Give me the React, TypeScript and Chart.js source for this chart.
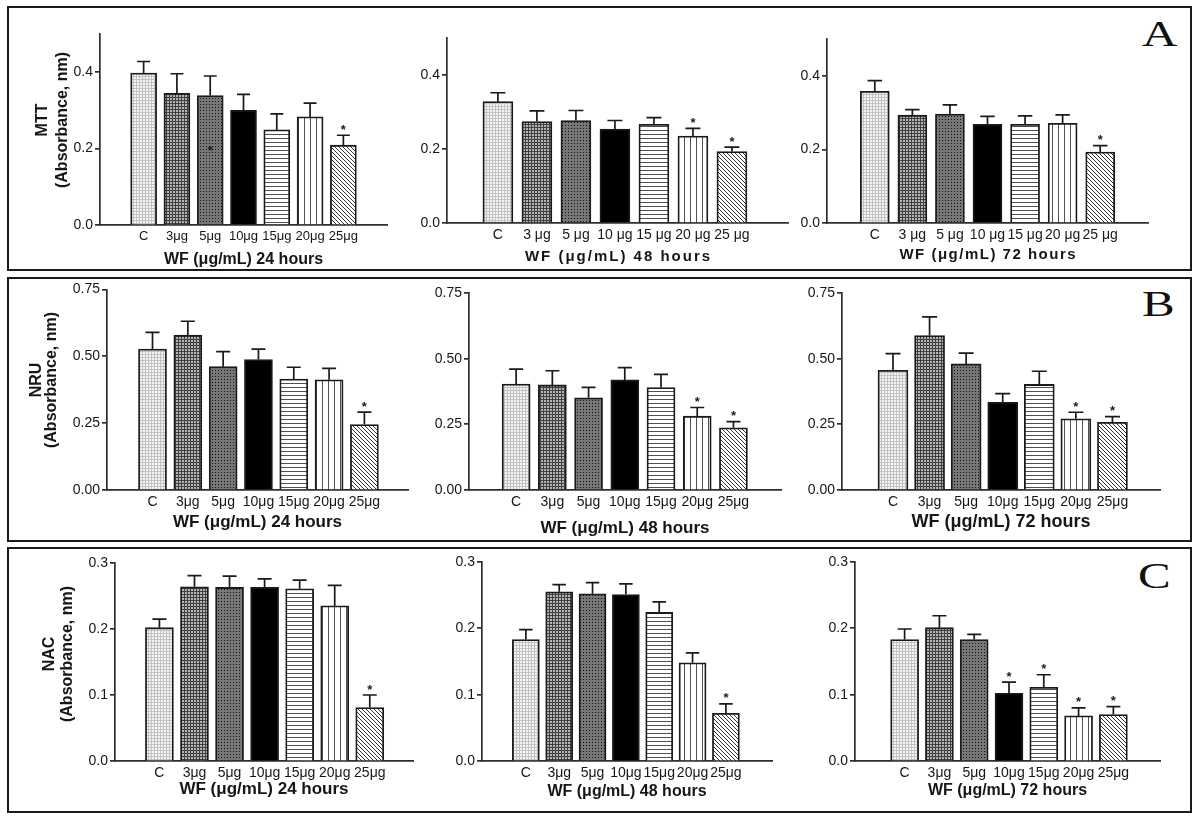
import React, { useEffect, useRef } from "react";
import { Chart, registerables } from "chart.js";

Chart.register(...registerables);

const FONT = "'Liberation Sans', Arial, Helvetica, sans-serif";
const AXIS = "#2e2e2e";
const TEXT = "#161616";
Chart.defaults.font.family = FONT;

// ---------- categories & tick labels ----------
const categories = ["C", "3μg", "5μg", "10μg", "15μg", "20μg", "25μg"];
const categoriesSpaced = ["C", "3 μg", "5 μg", "10 μg", "15 μg", "20 μg", "25 μg"];
const yTicksMTT = [0, 0.2, 0.4];
const yTicksNRU = [0, 0.25, 0.5, 0.75];
const yTicksNAC = [0, 0.1, 0.2, 0.3];

// ---------- MTT (panel A) ----------
const mtt24 = [0.398, 0.345, 0.339, 0.3, 0.249, 0.283, 0.209];
const mtt24Sem = [0.03, 0.051, 0.051, 0.042, 0.042, 0.036, 0.026];
const mtt24Sig = [0, 0, 0, 0, 0, 0, 1];
const mtt24Marks = [null, null, 0.2, null, null, null, null];
const mtt48 = [0.328, 0.274, 0.277, 0.254, 0.267, 0.235, 0.193];
const mtt48Sem = [0.024, 0.029, 0.027, 0.023, 0.018, 0.021, 0.012];
const mtt48Sig = [0, 0, 0, 0, 0, 1, 1];
const mtt72 = [0.358, 0.293, 0.296, 0.268, 0.268, 0.271, 0.193];
const mtt72Sem = [0.029, 0.015, 0.025, 0.022, 0.023, 0.023, 0.017];
const mtt72Sig = [0, 0, 0, 0, 0, 0, 1];

// ---------- NRU (panel B) ----------
const nru24 = [0.527, 0.579, 0.461, 0.488, 0.415, 0.412, 0.245];
const nru24Sem = [0.062, 0.052, 0.056, 0.039, 0.044, 0.043, 0.046];
const nru24Sig = [0, 0, 0, 0, 0, 0, 1];
const nru48 = [0.403, 0.4, 0.351, 0.419, 0.39, 0.281, 0.237];
const nru48Sem = [0.057, 0.054, 0.04, 0.047, 0.05, 0.033, 0.023];
const nru48Sig = [0, 0, 0, 0, 0, 1, 1];
const nru72 = [0.456, 0.588, 0.48, 0.334, 0.402, 0.271, 0.258];
const nru72Sem = [0.063, 0.071, 0.041, 0.033, 0.05, 0.025, 0.021];
const nru72Sig = [0, 0, 0, 0, 0, 1, 1];

// ---------- NAC (panel C) ----------
const nac24 = [0.202, 0.264, 0.263, 0.263, 0.261, 0.235, 0.081];
const nac24Sem = [0.013, 0.017, 0.017, 0.013, 0.013, 0.031, 0.019];
const nac24Sig = [0, 0, 0, 0, 0, 0, 1];
const nac48 = [0.183, 0.255, 0.252, 0.251, 0.224, 0.148, 0.072];
const nac48Sem = [0.015, 0.011, 0.017, 0.016, 0.016, 0.015, 0.014];
const nac48Sig = [0, 0, 0, 0, 0, 0, 1];
const nac72 = [0.183, 0.201, 0.183, 0.102, 0.111, 0.068, 0.07];
const nac72Sem = [0.016, 0.018, 0.008, 0.017, 0.019, 0.012, 0.012];
const nac72Sig = [0, 0, 0, 1, 1, 1, 1];

type Spec = {
  id: string;
  labels: string[];
  values: number[];
  sem: number[];
  sig: number[];
  marks?: (number | null)[];
  yMax: number;
  yTicks: number[];
  decimals: number;
  xTitle: string;
  yTitle?: string[];
  layout: any;
};

// ---------- layout (positions / sizes / styles) ----------
const L = {
  A1: { box: [10, 10, 410, 258], plot: [100, 34, 387, 225], xRange: [-0.695, 6.695], bar: 26, xLabelFont: 13, xTitleFont: 16, xTitleDy: 35, spacing: 0, yTitlePos: [43, 63, 120] },
  A2: { box: [420, 10, 380, 258], plot: [447, 38, 788, 223], xRange: [-0.681, 6.813], bar: 30, xLabelFont: 14, xTitleFont: 15, xTitleDy: 34, spacing: 2 },
  A3: { box: [800, 10, 388, 258], plot: [827, 39, 1148, 223], xRange: [-0.662, 6.662], bar: 29, xLabelFont: 14, xTitleFont: 15, xTitleDy: 32, spacing: 1.5 },
  B1: { box: [10, 279, 410, 260], plot: [107, 288, 408, 490], xRange: [-0.68, 6.626], bar: 28, xLabelFont: 14, xTitleFont: 17, xTitleDy: 32, spacing: 0, yTitlePos: [36.5, 52, 380] },
  B2: { box: [420, 279, 380, 260], plot: [469, 293, 781, 490], xRange: [-0.686, 6.698], bar: 28, xLabelFont: 14, xTitleFont: 17, xTitleDy: 38, spacing: 0 },
  B3: { box: [800, 279, 388, 260], plot: [842, 293, 1160, 490], xRange: [-0.773, 6.679], bar: 30, xLabelFont: 14, xTitleFont: 18, xTitleDy: 32, spacing: 0 },
  C1: { box: [10, 549, 410, 261], plot: [115, 563, 413, 761], xRange: [-0.66, 6.626], bar: 28, xLabelFont: 14, xTitleFont: 17, xTitleDy: 28, spacing: 0, yTitlePos: [49.5, 68, 654] },
  C2: { box: [420, 549, 380, 261], plot: [482, 562, 772, 761], xRange: [-0.694, 6.761], bar: 27, xLabelFont: 14, xTitleFont: 16, xTitleDy: 31, spacing: 0 },
  C3: { box: [800, 549, 388, 261], plot: [855, 562, 1160, 761], xRange: [-0.8, 6.714], bar: 28, xLabelFont: 14, xTitleFont: 16, xTitleDy: 30, spacing: 0 },
};

const specs: Spec[] = [
  { id: "A1", labels: categories, values: mtt24, sem: mtt24Sem, sig: mtt24Sig, marks: mtt24Marks, yMax: 0.5, yTicks: yTicksMTT, decimals: 1, xTitle: "WF (μg/mL) 24 hours", yTitle: ["MTT", "(Absorbance, nm)"], layout: L.A1 },
  { id: "A2", labels: categoriesSpaced, values: mtt48, sem: mtt48Sem, sig: mtt48Sig, yMax: 0.5, yTicks: yTicksMTT, decimals: 1, xTitle: "WF (μg/mL) 48 hours", layout: L.A2 },
  { id: "A3", labels: categoriesSpaced, values: mtt72, sem: mtt72Sem, sig: mtt72Sig, yMax: 0.5, yTicks: yTicksMTT, decimals: 1, xTitle: "WF (μg/mL) 72 hours", layout: L.A3 },
  { id: "B1", labels: categories, values: nru24, sem: nru24Sem, sig: nru24Sig, yMax: 0.75, yTicks: yTicksNRU, decimals: 2, xTitle: "WF (μg/mL) 24 hours", yTitle: ["NRU", "(Absorbance, nm)"], layout: L.B1 },
  { id: "B2", labels: categories, values: nru48, sem: nru48Sem, sig: nru48Sig, yMax: 0.75, yTicks: yTicksNRU, decimals: 2, xTitle: "WF (μg/mL) 48 hours", layout: L.B2 },
  { id: "B3", labels: categories, values: nru72, sem: nru72Sem, sig: nru72Sig, yMax: 0.75, yTicks: yTicksNRU, decimals: 2, xTitle: "WF (μg/mL) 72 hours", layout: L.B3 },
  { id: "C1", labels: categories, values: nac24, sem: nac24Sem, sig: nac24Sig, yMax: 0.3, yTicks: yTicksNAC, decimals: 1, xTitle: "WF (μg/mL) 24 hours", yTitle: ["NAC", "(Absorbance, nm)"], layout: L.C1 },
  { id: "C2", labels: categories, values: nac48, sem: nac48Sem, sig: nac48Sig, yMax: 0.3, yTicks: yTicksNAC, decimals: 1, xTitle: "WF (μg/mL) 48 hours", layout: L.C2 },
  { id: "C3", labels: categories, values: nac72, sem: nac72Sem, sig: nac72Sig, yMax: 0.3, yTicks: yTicksNAC, decimals: 1, xTitle: "WF (μg/mL) 72 hours", layout: L.C3 },
];

// ---------- fill patterns ----------
function tile(ctx: CanvasRenderingContext2D, w: number, h: number, bg: string, fg: string, pts: [number, number][]) {
  const c = document.createElement("canvas");
  c.width = w;
  c.height = h;
  const g = c.getContext("2d")!;
  g.fillStyle = bg;
  g.fillRect(0, 0, w, h);
  g.fillStyle = fg;
  pts.forEach(([x, y]) => g.fillRect(x, y, 1, 1));
  return ctx.createPattern(c, "repeat");
}

function makeFills(ctx: CanvasRenderingContext2D) {
  const grid: [number, number][] = [[0, 0], [1, 0], [2, 0], [0, 1], [0, 2]];
  return [
    tile(ctx, 3, 3, "#f4f4f4", "#c2c2c2", grid),
    tile(ctx, 3, 3, "#b4b4b4", "#404040", grid),
    tile(ctx, 3, 3, "#777777", "#121212", [[1, 1]]),
    "#000000",
    tile(ctx, 1, 4, "#ffffff", "#505050", [[0, 0]]),
    tile(ctx, 6, 1, "#ffffff", "#505050", [[0, 0]]),
    tile(ctx, 4, 4, "#ffffff", "#363636", [[0, 0], [1, 1], [2, 2], [3, 3]]),
  ];
}

// ---------- plugins ----------
const errorBarPlugin = (spec: Spec) => ({
  id: "errorBars" + spec.id,
  afterDatasetsDraw(chart: any) {
    const { ctx } = chart;
    const y = chart.scales.y;
    const meta = chart.getDatasetMeta(0);
    ctx.save();
    ctx.strokeStyle = "#1a1a1a";
    ctx.fillStyle = "#1a1a1a";
    ctx.lineWidth = 1.7;
    ctx.font = `bold 13px ${FONT}`;
    ctx.textAlign = "center";
    ctx.textBaseline = "alphabetic";
    meta.data.forEach((bar: any, i: number) => {
      const top = y.getPixelForValue(spec.values[i] + spec.sem[i]);
      const half = bar.width / 4;
      ctx.beginPath();
      ctx.moveTo(bar.x, bar.y);
      ctx.lineTo(bar.x, top);
      ctx.moveTo(bar.x - half, top);
      ctx.lineTo(bar.x + half, top);
      ctx.stroke();
      if (spec.sig[i]) ctx.fillText("*", bar.x, top - 1.5);
      const m = spec.marks ? spec.marks[i] : null;
      if (m != null) ctx.fillText("*", bar.x, y.getPixelForValue(m) + 6.5);
    });
    ctx.restore();
  },
});

const titlePlugin = (spec: Spec) => ({
  id: "axisTitles" + spec.id,
  afterDraw(chart: any) {
    const { ctx, chartArea } = chart;
    const lay = spec.layout;
    ctx.save();
    ctx.fillStyle = TEXT;
    ctx.textAlign = "center";
    ctx.textBaseline = "middle";
    ctx.font = `bold ${lay.xTitleFont}px ${FONT}`;
    (ctx as any).letterSpacing = `${lay.spacing}px`;
    ctx.fillText(spec.xTitle, (chartArea.left + chartArea.right) / 2 + lay.spacing / 2, chartArea.bottom + lay.xTitleDy);
    (ctx as any).letterSpacing = "0px";
    if (spec.yTitle && lay.yTitlePos) {
      const [x1, x2, cy] = lay.yTitlePos;
      ctx.font = `bold 16px ${FONT}`;
      [x1, x2].forEach((xx: number, k: number) => {
        ctx.save();
        ctx.translate(xx - lay.box[0], cy - lay.box[1]);
        ctx.rotate(-Math.PI / 2);
        ctx.fillText(spec.yTitle![k], 0, 0);
        ctx.restore();
      });
    }
    ctx.restore();
  },
});

// ---------- chart component ----------
function BarChart({ spec }: { spec: Spec }) {
  const ref = useRef<HTMLCanvasElement>(null);
  const [cl, ct, cw, ch] = spec.layout.box;
  useEffect(() => {
    const canvas = ref.current!;
    const ctx = canvas.getContext("2d")!;
    const fills = makeFills(ctx);
    const [ax, pt, ae, zy] = spec.layout.plot;
    const chart = new Chart(canvas, {
      type: "bar",
      data: {
        datasets: [
          {
            data: spec.values.map((v, i) => ({ x: i, y: v })),
            backgroundColor: fills as any,
            borderColor: "#1a1a1a",
            borderWidth: 1.8,
            borderSkipped: "bottom",
            barThickness: spec.layout.bar,
          } as any,
        ],
      },
      options: {
        responsive: false,
        animation: false,
        events: [],
        layout: { padding: { left: 0, top: pt - ct, right: cl + cw - ae, bottom: 0 } },
        plugins: { legend: { display: false }, tooltip: { enabled: false } },
        scales: {
          x: {
            type: "linear",
            min: spec.layout.xRange[0],
            max: spec.layout.xRange[1],
            grid: { display: false, drawTicks: false },
            border: { color: AXIS, width: 1.7 },
            ticks: {
              font: { size: spec.layout.xLabelFont },
              color: TEXT,
              padding: 4,
              maxRotation: 0,
              autoSkip: false,
              callback: (v: any) => spec.labels[v] ?? "",
            },
            afterBuildTicks: (s: any) => {
              s.ticks = spec.labels.map((_, i) => ({ value: i }));
            },
            afterFit: (s: any) => {
              s.height = ct + ch - zy;
            },
          } as any,
          y: {
            min: 0,
            max: spec.yMax,
            grid: { drawOnChartArea: false, drawTicks: true, tickLength: 5, color: AXIS, lineWidth: 1.7 },
            border: { color: AXIS, width: 1.7 },
            ticks: {
              font: { size: 14 },
              color: TEXT,
              padding: 2,
              callback: (v: any) => Number(v).toFixed(spec.decimals),
            },
            afterBuildTicks: (s: any) => {
              s.ticks = spec.yTicks.map((v) => ({ value: v }));
            },
            afterFit: (s: any) => {
              s.width = ax - cl;
            },
          } as any,
        },
      },
      plugins: [errorBarPlugin(spec), titlePlugin(spec)],
    });
    return () => chart.destroy();
  }, [spec]);
  return (
    <canvas
      ref={ref}
      width={cw}
      height={ch}
      style={{ position: "absolute", left: cl, top: ct, width: cw, height: ch }}
    />
  );
}

const frames = [
  { top: 6, height: 265 },
  { top: 277, height: 265 },
  { top: 547, height: 266 },
];

const letters = [
  { text: "A", left: 1142, top: 17 },
  { text: "B", left: 1142, top: 287 },
  { text: "C", left: 1138, top: 559 },
];

export default function App() {
  return (
    <div style={{ position: "absolute", left: 0, top: 0, width: 1200, height: 821, background: "#ffffff", overflow: "hidden" }}>
      {frames.map((f, i) => (
        <div
          key={i}
          style={{
            position: "absolute",
            left: 7,
            top: f.top,
            width: 1185,
            height: f.height,
            border: "2px solid #1a1a1a",
            boxSizing: "border-box",
          }}
        />
      ))}
      {letters.map((l) => (
        <div
          key={l.text}
          style={{
            position: "absolute",
            left: l.left,
            top: l.top,
            fontFamily: "'Liberation Serif', 'Times New Roman', serif",
            fontSize: 35,
            lineHeight: "35px",
            color: "#111",
            transform: "scaleX(1.4)",
            transformOrigin: "left top",
          }}
        >
          {l.text}
        </div>
      ))}
      {specs.map((s) => (
        <BarChart key={s.id} spec={s} />
      ))}
    </div>
  );
}
